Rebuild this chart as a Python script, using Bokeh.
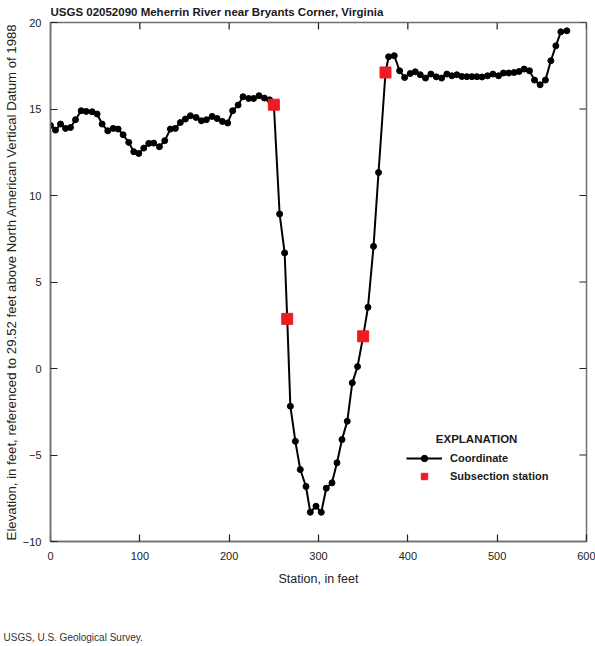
import math
from bokeh.plotting import figure
from bokeh.models import Range1d, FixedTicker, Legend, LegendItem, Label, Title
from bokeh.embed import file_html
from bokeh.resources import INLINE

# ---- data ----
station = [0, 5.6, 11.2, 16.8, 22.4, 28, 34.3, 39.9, 46.6, 52.2, 57.8, 64.1, 70.1,
           75.7, 81.3, 87.6, 93.2, 98.8, 104.4, 110, 115.5, 121.9, 127.9, 134.2,
           139.8, 145.4, 151, 156.6, 163, 168.9, 174.5, 180.9, 186.5, 192.4, 198.3,
           203.9, 210, 215.5, 221.8, 227.4, 233.4, 239.4, 245.3, 250, 256.5, 262.1,
           265, 268.5, 274.1, 279.6, 286, 290.8, 297.2, 303.1, 308.7, 315.1, 320.7,
           326.3, 332.2, 337.8, 343.7, 350, 355.4, 361.6, 367.2, 375, 378.5, 384.8,
           390.8, 396.4, 402.7, 408.3, 413.9, 419.8, 425.8, 431.8, 437.8, 443.7,
           449.3, 454.9, 460.5, 466.1, 471.7, 477.3, 483, 489.2, 495.2, 501.5, 507,
           513, 519, 524.6, 530.2, 536.2, 541.8, 548.1, 554, 560.1, 565.7, 571.3, 578]
elevation = [14.05, 13.78, 14.13, 13.88, 13.93, 14.38, 14.90, 14.86, 14.84, 14.71,
             14.13, 13.74, 13.88, 13.84, 13.51, 13.07, 12.53, 12.43, 12.74, 13.01,
             13.03, 12.82, 13.17, 13.84, 13.88, 14.22, 14.42, 14.61, 14.51, 14.32,
             14.38, 14.57, 14.45, 14.28, 14.19, 14.90, 15.23, 15.71, 15.61, 15.61,
             15.77, 15.63, 15.53, 15.25, 8.93, 6.68, 2.87, -2.18, -4.21, -5.84,
             -6.82, -8.31, -7.96, -8.31, -6.92, -6.61, -5.45, -4.11, -3.05, -0.83,
             0.11, 1.86, 3.54, 7.06, 11.33, 17.11, 18.02, 18.08, 17.21, 16.82,
             17.05, 17.15, 16.98, 16.79, 17.02, 16.86, 16.79, 17.02, 16.92, 16.98,
             16.88, 16.87, 16.87, 16.87, 16.85, 16.92, 17.02, 16.92, 17.08, 17.08,
             17.11, 17.17, 17.31, 17.21, 16.67, 16.40, 16.67, 17.79, 18.65, 19.46,
             19.52]
sub_station = [250, 265, 350, 375]
sub_elevation = [15.25, 2.87, 1.86, 17.11]

x_ticks = [0, 100, 200, 300, 400, 500, 600]
y_ticks = [-10, -5, 0, 5, 10, 15, 20]
X_MIN, X_MAX = 0, 600
Y_MIN, Y_MAX = -10, 20

SANS = "Liberation Sans"
AXIS_GRAY = "#707070"
TICK = "#222222"

p = figure(width=595, height=646, output_backend="svg", toolbar_location=None,
           x_range=Range1d(X_MIN, X_MAX), y_range=Range1d(Y_MIN, Y_MAX),
           min_border_left=50, min_border_right=9, min_border_top=22,
           min_border_bottom=105)
p.xgrid.visible = False
p.ygrid.visible = False
p.outline_line_color = AXIS_GRAY
p.outline_line_width = 1.5

p.title.text = "USGS 02052090 Meherrin River near Bryants Corner, Virginia"
p.title.text_font = SANS
p.title.text_font_size = "11.5px"
p.title.text_font_style = "bold"
p.title.text_color = "#1a1a1a"
p.title.align = "left"
p.title.vertical_align = "middle"
p.title.offset = 0
p.title.standoff = 8

xa = p.xaxis[0]
xa.ticker = FixedTicker(ticks=x_ticks)
ya = p.yaxis[0]
ya.ticker = FixedTicker(ticks=y_ticks)
for ax in (xa, ya):
    ax.major_tick_in = 7
    ax.major_tick_out = 0
    ax.minor_tick_line_color = None
    ax.axis_line_color = AXIS_GRAY
    ax.axis_line_width = 1.5
    ax.major_tick_line_color = TICK
    ax.major_tick_line_width = 1.2
    ax.major_label_text_font = SANS
    ax.major_label_text_font_size = "11px"
    ax.major_label_text_color = TICK
    ax.axis_label_text_font = SANS
    ax.axis_label_text_font_size = "12.5px"
    ax.axis_label_text_font_style = "normal"
    ax.axis_label_text_color = TICK
xa.axis_label = "Station, in feet"
xa.major_label_standoff = 10
xa.axis_label_standoff = 9
ya.axis_label = "Elevation, in feet, referenced to 29.52 feet above North American Vertical Datum of 1988"
ya.axis_label_text_font_size = "13.2px"
ya.major_label_standoff = 9
ya.axis_label_standoff = 1
ya.major_label_overrides = {-10: "\u221210", -5: "\u22125"}

# mirror ticks on top and right edges (inward, 7 px)
p.ray(x=x_ticks, y=[Y_MAX] * len(x_ticks), length=7, length_units="screen",
      angle=-math.pi / 2, line_color=TICK, line_width=1.2)
p.ray(x=[X_MAX] * len(y_ticks), y=y_ticks, length=7, length_units="screen",
      angle=math.pi, line_color=TICK, line_width=1.2)

ln = p.line(station, elevation, line_color="black", line_width=2)
pts = p.scatter(station, elevation, marker="circle", size=6, fill_color="black",
                line_color="black")
sq = p.scatter(sub_station, sub_elevation, marker="square", size=11,
               fill_color="#ed1c24", line_color="#ed1c24")

legend = Legend(items=[LegendItem(label="Coordinate", renderers=[ln, pts]),
                       LegendItem(label="Subsection station", renderers=[sq])],
                location=(356, 57), orientation="vertical",
                glyph_width=36, glyph_height=16, label_standoff=8, spacing=2,
                padding=2, margin=0, border_line_color=None,
                background_fill_alpha=0,
                label_text_font=SANS, label_text_font_size="11px",
                label_text_font_style="bold", label_text_color="#1a1a1a")
p.add_layout(legend, "center")

p.add_layout(Label(x=477, y=-4.05, text="EXPLANATION", text_align="center",
                   text_baseline="middle", text_font=SANS, text_font_size="11.5px",
                   text_font_style="bold", text_color="#1a1a1a"))

# spacer panel between the x axis and the footer note
spacer = Title(text=" ", align="left", text_font=SANS, text_font_size="10px",
               standoff=24)
p.add_layout(spacer, "below")

foot = Title(text="USGS, U.S. Geological Survey.", align="left", offset=-47,
             text_font=SANS, text_font_size="10px", text_font_style="normal",
             text_color="#333333", standoff=8)
p.add_layout(foot, "below")

open("out.html", "w").write(file_html(p, INLINE))
